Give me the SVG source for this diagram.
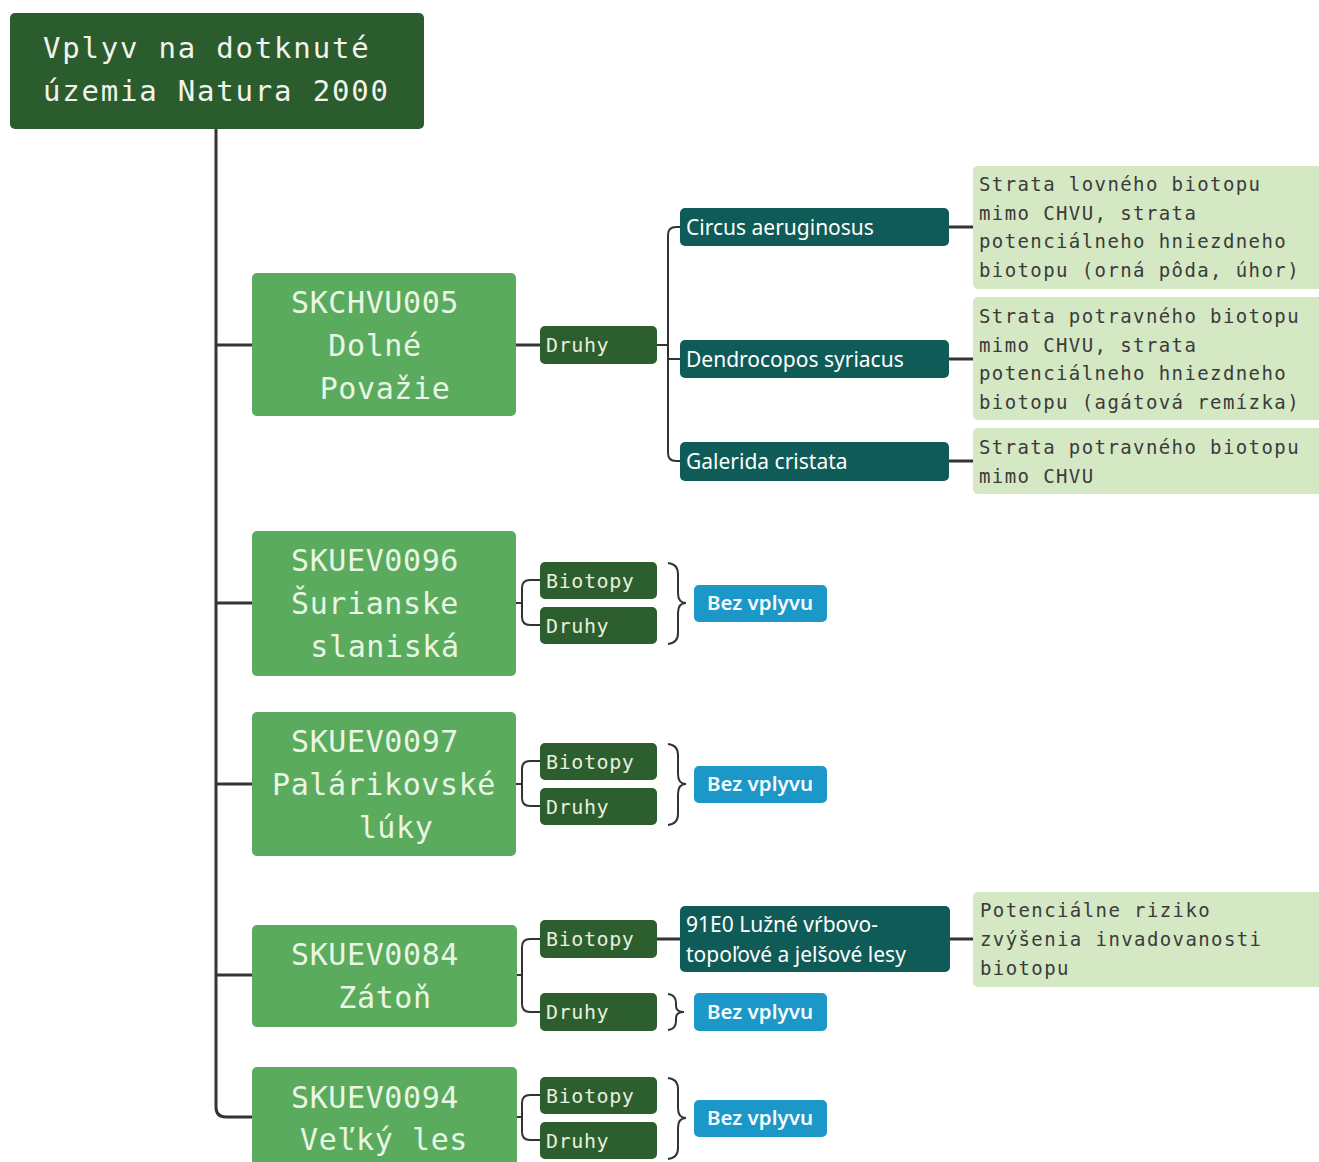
<svg xmlns="http://www.w3.org/2000/svg" width="1319" height="1162" viewBox="0 0 1319 1162">
<style>
.title{fill:#2b5c2d}
.site{fill:#5aab5d}
.cat{fill:#2d5e2e}
.sp{fill:#0f5b57}
.none{fill:#1b97c8}
.desc{fill:#d3e8c3}
.mono{font-family:"DejaVu Sans Mono","Liberation Mono",monospace}
.tt{font-size:29px;letter-spacing:1.8px;fill:#f2f4ec}
.st{font-size:30px;letter-spacing:0.6px;fill:#e9f6e4;text-anchor:middle}
.ct{font-size:20px;letter-spacing:0.6px;fill:#e6efdf}
.dt{font-size:19px;letter-spacing:1.4px;fill:#3b3b3b}
.sans{font-family:"Noto Sans","Open Sans",sans-serif;font-size:21px;fill:#ffffff}
.nt{font-family:"Noto Sans","Open Sans",sans-serif;font-size:20.5px;font-weight:600;fill:#f4fbff;text-anchor:middle}
.ln{fill:none;stroke:#333333;stroke-width:3}
.br{fill:none;stroke:#333333;stroke-width:2}
</style>
<rect width="1319" height="1162" fill="#ffffff"/>
<g id="connectors">
<path class="ln" d="M216,129 V1107 Q216,1117 226,1117 H252"/>
<path class="ln" d="M216,345 H252 M216,603 H252 M216,784 H252 M216,975 H252"/>
<path class="ln" d="M516,345 H540"/>
<path class="br" d="M657,345 H668 M680,227 H676 Q668,227 668,235 V453 Q668,461 676,461 H680 M668,359 H680"/>
<path class="ln" d="M949,227 H973 M949,359 H973 M949,461 H973"/>
<path class="br" d="M516,603 H522 M540,580 H530 Q522,580 522,588 V617 Q522,625 530,625 H540"/>
<path class="br" d="M516,784 H522 M540,761 H530 Q522,761 522,769 V798 Q522,806 530,806 H540"/>
<path class="br" d="M517,975 H522 M540,939 H530 Q522,939 522,947 V1004 Q522,1012 530,1012 H540"/>
<path class="br" d="M517,1117 H522 M540,1095 H530 Q522,1095 522,1103 V1132 Q522,1140 530,1140 H540"/>
<path class="ln" d="M657,939 H680 M950,939 H973"/>
<path class="br" d="M668,563 Q678,564 678,574 V593 Q678,603 686,603 Q678,603 678,613 V633 Q678,643 668,644"/>
<path class="br" d="M668,744 Q678,745 678,755 V774 Q678,784 686,784 Q678,784 678,794 V814 Q678,824 668,825"/>
<path class="br" d="M668,994 Q676,995 676,1003 V1006 Q676,1012 684,1012 Q676,1012 676,1018 V1021 Q676,1029 668,1030"/>
<path class="br" d="M668,1078 Q678,1079 678,1089 V1108 Q678,1118 686,1118 Q678,1118 678,1128 V1148 Q678,1158 668,1159"/>
</g>
<g id="root"><rect class="title" x="10" y="13" width="414" height="116" rx="5"/><text class="mono tt" x="43" y="58">Vplyv na dotknuté</text><text class="mono tt" x="43" y="101">územia Natura 2000</text></g>
<g id="site1"><rect class="site" x="252" y="273" width="264" height="143" rx="5"/><text class="mono st" x="375" y="313">SKCHVU005</text><text class="mono st" x="375" y="356">Dolné</text><text class="mono st" x="385" y="399">Považie</text></g>
<g id="site2"><rect class="site" x="252" y="531" width="264" height="145" rx="5"/><text class="mono st" x="375" y="571">SKUEV0096</text><text class="mono st" x="375" y="614">Šurianske</text><text class="mono st" x="385" y="657">slaniská</text></g>
<g id="site3"><rect class="site" x="252" y="712" width="264" height="144" rx="5"/><text class="mono st" x="375" y="752">SKUEV0097</text><text class="mono st" x="384" y="795">Palárikovské</text><text class="mono st" x="396" y="838">lúky</text></g>
<g id="site4"><rect class="site" x="252" y="925" width="265" height="102" rx="5"/><text class="mono st" x="375" y="965">SKUEV0084</text><text class="mono st" x="385" y="1008">Zátoň</text></g>
<g id="site5"><rect class="site" x="252" y="1067" width="265" height="110" rx="5"/><text class="mono st" x="375" y="1108">SKUEV0094</text><text class="mono st" x="384" y="1150">Veľký les</text></g>
<g id="cat1"><rect class="cat" x="540" y="326" width="117" height="38" rx="5"/><text class="mono ct" x="546" y="352">Druhy</text></g>
<g id="cat2a"><rect class="cat" x="540" y="562" width="117" height="37" rx="5"/><text class="mono ct" x="546" y="588">Biotopy</text></g>
<g id="cat2b"><rect class="cat" x="540" y="607" width="117" height="37" rx="5"/><text class="mono ct" x="546" y="633">Druhy</text></g>
<g id="cat3a"><rect class="cat" x="540" y="743" width="117" height="37" rx="5"/><text class="mono ct" x="546" y="769">Biotopy</text></g>
<g id="cat3b"><rect class="cat" x="540" y="788" width="117" height="37" rx="5"/><text class="mono ct" x="546" y="814">Druhy</text></g>
<g id="cat4a"><rect class="cat" x="540" y="920" width="117" height="38" rx="5"/><text class="mono ct" x="546" y="946">Biotopy</text></g>
<g id="cat4b"><rect class="cat" x="540" y="993" width="117" height="38" rx="5"/><text class="mono ct" x="546" y="1019">Druhy</text></g>
<g id="cat5a"><rect class="cat" x="540" y="1077" width="117" height="37" rx="5"/><text class="mono ct" x="546" y="1103">Biotopy</text></g>
<g id="cat5b"><rect class="cat" x="540" y="1122" width="117" height="37" rx="5"/><text class="mono ct" x="546" y="1148">Druhy</text></g>
<g id="sp1"><rect class="sp" x="680" y="208" width="269" height="38" rx="5"/><text class="sans" x="686" y="235">Circus aeruginosus</text></g>
<g id="sp2"><rect class="sp" x="680" y="340" width="269" height="38" rx="5"/><text class="sans" x="686" y="367">Dendrocopos syriacus</text></g>
<g id="sp3"><rect class="sp" x="680" y="442" width="269" height="39" rx="5"/><text class="sans" x="686" y="469">Galerida cristata</text></g>
<g id="hab4"><rect class="sp" x="680" y="906" width="270" height="66" rx="5"/><text class="sans" x="686" y="932">91E0 Lužné vŕbovo-</text><text class="sans" x="686" y="962">topoľové a jelšové lesy</text></g>
<g id="desc1"><rect class="desc" x="973" y="166" width="350" height="123" rx="5"/><text class="mono dt" x="979" y="191">Strata lovného biotopu</text><text class="mono dt" x="979" y="220">mimo CHVU, strata</text><text class="mono dt" x="979" y="248">potenciálneho hniezdneho</text><text class="mono dt" x="979" y="277">biotopu (orná pôda, úhor)</text></g>
<g id="desc2"><rect class="desc" x="973" y="297" width="350" height="123" rx="5"/><text class="mono dt" x="979" y="323">Strata potravného biotopu</text><text class="mono dt" x="979" y="352">mimo CHVU, strata</text><text class="mono dt" x="979" y="380">potenciálneho hniezdneho</text><text class="mono dt" x="979" y="409">biotopu (agátová remízka)</text></g>
<g id="desc3"><rect class="desc" x="973" y="428" width="350" height="66" rx="5"/><text class="mono dt" x="979" y="454">Strata potravného biotopu</text><text class="mono dt" x="979" y="483">mimo CHVU</text></g>
<g id="desc4"><rect class="desc" x="973" y="892" width="350" height="95" rx="5"/><text class="mono dt" x="980" y="917">Potenciálne riziko</text><text class="mono dt" x="980" y="946">zvýšenia invadovanosti</text><text class="mono dt" x="980" y="975">biotopu</text></g>
<g id="none2"><rect class="none" x="694" y="585" width="133" height="37" rx="5"/><text class="nt" x="760" y="610">Bez vplyvu</text></g>
<g id="none3"><rect class="none" x="694" y="766" width="133" height="37" rx="5"/><text class="nt" x="760" y="791">Bez vplyvu</text></g>
<g id="none4"><rect class="none" x="694" y="993" width="133" height="38" rx="5"/><text class="nt" x="760" y="1019">Bez vplyvu</text></g>
<g id="none5"><rect class="none" x="694" y="1100" width="133" height="37" rx="5"/><text class="nt" x="760" y="1125">Bez vplyvu</text></g>
</svg>
